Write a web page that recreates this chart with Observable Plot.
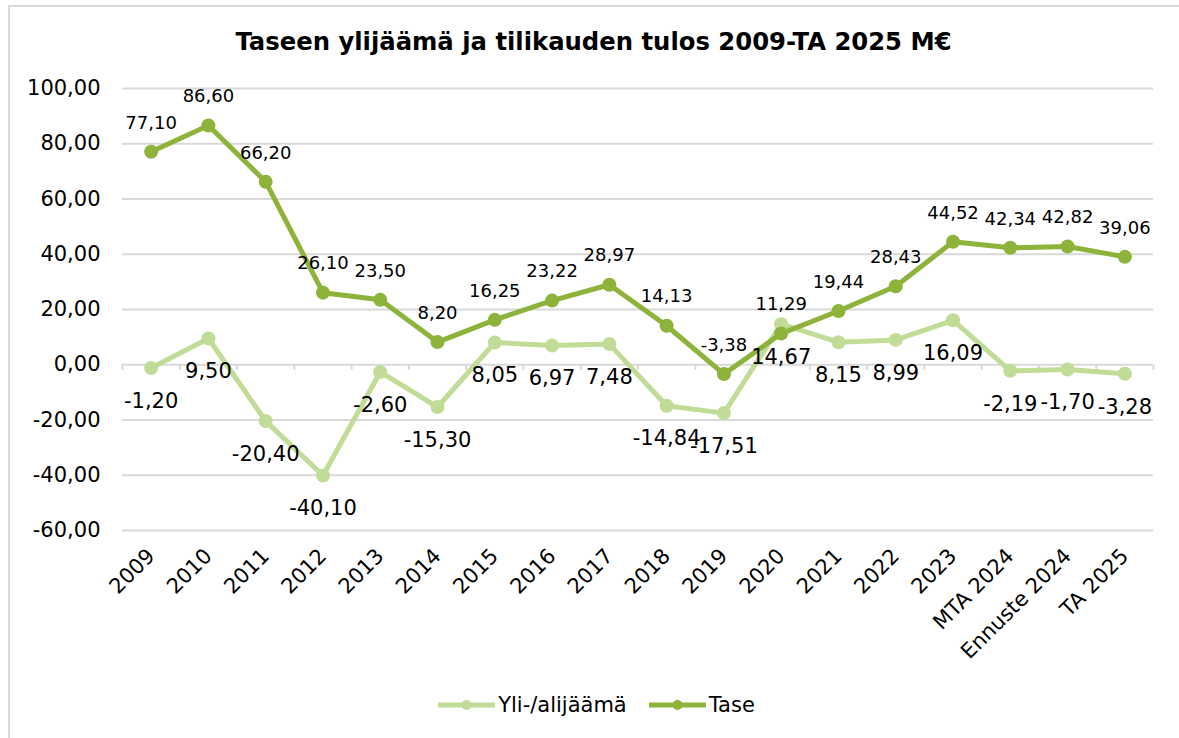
<!DOCTYPE html>
<html>
<head>
<meta charset="utf-8">
<script src="https://cdn.jsdelivr.net/npm/d3@7"></script>
<script src="https://cdn.jsdelivr.net/npm/@observablehq/plot@0.6"></script>
<style>
  html, body { margin: 0; padding: 0; background: #fff; }
  body { width: 1179px; height: 738px; overflow: hidden; position: relative; font-family: Verdana, "DejaVu Sans", sans-serif; color: #000; }
  #frame { position: absolute; left: 8px; top: 5px; width: 1300px; height: 900px; border: 2.5px solid #d9d9d9; box-sizing: border-box; }
  #title { position: absolute; left: 0; width: 1187px; top: 27px; text-align: center; font-weight: bold; font-size: 24.3px; line-height: 30px; }
  #chart { position: absolute; left: 0; top: 66px; }
  #legend { position: absolute; left: 0; width: 1193px; top: 692px; display: flex; justify-content: center; align-items: center; font-size: 21px; line-height: 26px; }
  .item { display: flex; align-items: center; }
  .item svg { margin-right: 3px; }
  .item + .item { margin-left: 22px; }
</style>
</head>
<body>
<div id="frame"></div>
<div id="title">Taseen ylijäämä ja tilikauden tulos 2009-TA 2025 M€</div>
<div id="chart"></div>
<div id="legend"></div>
<script>
const categories = ["2009","2010","2011","2012","2013","2014","2015","2016","2017","2018","2019","2020","2021","2022","2023","MTA 2024","Ennuste 2024","TA 2025"];
const yliValues = [-1.20, 9.50, -20.40, -40.10, -2.60, -15.30, 8.05, 6.97, 7.48, -14.84, -17.51, 14.67, 8.15, 8.99, 16.09, -2.19, -1.70, -3.28];
const taseValues = [77.10, 86.60, 66.20, 26.10, 23.50, 8.20, 16.25, 23.22, 28.97, 14.13, -3.38, 11.29, 19.44, 28.43, 44.52, 42.34, 42.82, 39.06];
const yTicks = [-60, -40, -20, 0, 20, 40, 60, 80, 100];
const seriesNames = ["Yli-/alijäämä", "Tase"];

const lightGreen = "#c0dc96";
const darkGreen = "#8db33a";
const gridColor = "#d9d9d9";

const fmt = v => v.toFixed(2).replace(".", ",");
const data = categories.map((c, i) => ({cat: c, yli: yliValues[i], tase: taseValues[i]}));

const W = 1179, H = 600, mL = 122, mR = 26;
const bw = (W - mL - mR) / categories.length;

const chart = Plot.plot({
  width: W,
  height: H,
  marginLeft: mL,
  marginRight: mR,
  marginTop: 22,
  marginBottom: 136,
  style: {fontFamily: 'Verdana, "DejaVu Sans", sans-serif', fontSize: "21px", color: "#000", background: "transparent", overflow: "visible"},
  x: {type: "band", domain: categories, padding: 0, round: false},
  y: {domain: [-60, 100]},
  marks: [
    Plot.gridY(yTicks, {stroke: gridColor, strokeOpacity: 1, strokeWidth: 2}),
    Plot.ruleX(categories, {x: d => d, y1: 0, y2: -2, dx: -bw / 2, stroke: gridColor, strokeWidth: 2}),
    Plot.ruleX([categories[categories.length - 1]], {x: d => d, y1: 0, y2: -2, dx: bw / 2, stroke: gridColor, strokeWidth: 2}),
    Plot.axisY(yTicks, {tickSize: 0, tickPadding: 22, tickFormat: fmt, fontSize: 21, label: null}),
    Plot.axisX({tickRotate: -45, tickSize: 0, tickPadding: 22, fontSize: 21, label: null}),
    Plot.lineY(data, {x: "cat", y: "yli", stroke: lightGreen, strokeWidth: 5}),
    Plot.dot(data, {x: "cat", y: "yli", r: 7, fill: lightGreen}),
    Plot.lineY(data, {x: "cat", y: "tase", stroke: darkGreen, strokeWidth: 5}),
    Plot.dot(data, {x: "cat", y: "tase", r: 7, fill: darkGreen}),
    Plot.text(data, {x: "cat", y: "tase", text: d => fmt(d.tase), dy: -29, fontSize: 18, fill: "#000"}),
    Plot.text(data, {x: "cat", y: "yli", text: d => fmt(d.yli), dy: 33, fontSize: 21, fill: "#000"})
  ]
});
document.getElementById("chart").appendChild(chart);

const legend = document.getElementById("legend");
[[seriesNames[0], lightGreen], [seriesNames[1], darkGreen]].forEach(([name, color]) => {
  const item = document.createElement("div");
  item.className = "item";
  item.innerHTML = `<svg width="57" height="14"><line x1="0" x2="57" y1="7" y2="7" stroke="${color}" stroke-width="5"/><circle cx="28.5" cy="7" r="5" fill="${color}"/></svg><span>${name}</span>`;
  legend.appendChild(item);
});
</script>
</body>
</html>
